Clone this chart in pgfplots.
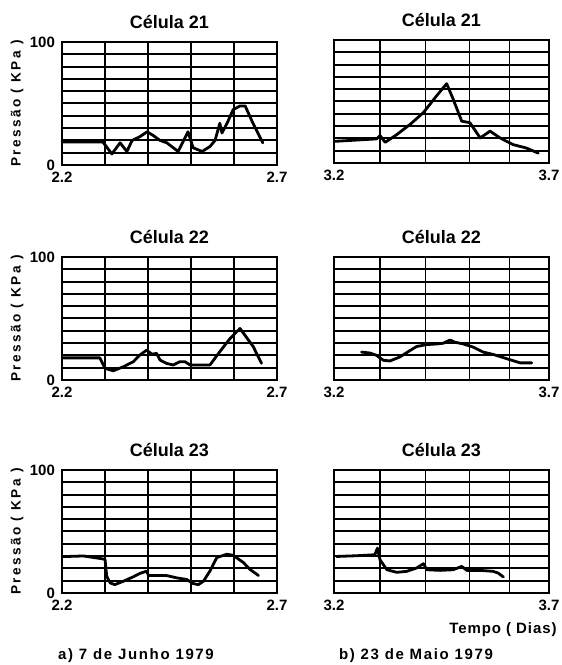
\documentclass[border=0pt]{standalone}
\usepackage{fontspec}
\setmainfont{Liberation Sans}
\usepackage{pgfplots}
\pgfplotsset{compat=1.18}

\pgfplotsset{
  panel/.style={
    scale only axis, width=107.5pt, height=61.5pt,
    anchor=south west,
    ymin=0, ymax=100,
    ytick={0,10,20,30,40,50,60,70,80,90,100},
    xmajorgrids, ymajorgrids,
    x grid style={black, line width=0.6pt},
    y grid style={black, line width=1pt},
    axis line style={black, line width=1.3pt},
    major tick length=0pt,
    tick label style={font=\bfseries\fontsize{7.5}{8}\selectfont},
    /pgf/number format/assume math mode=true,
    title style={font=\bfseries\fontsize{9}{10}\selectfont, yshift=-3pt},
  },
  leftpanel/.style={panel,
    xmin=2.2, xmax=2.7,
    xtick={2.2,2.3,2.4,2.5,2.6,2.7},
    xticklabels={2.2,,,,,2.7},
    yticklabels={0,,,,,,,,,,100},
    ylabel={Pressão ( KPa )},
    ylabel style={at={(axis description cs:-0.209,0.5)}, rotate=0, anchor=center,
      font=\bfseries\fontsize{6.8}{7}\selectfont\addfontfeature{LetterSpace=18}},
  },
  rightpanel/.style={panel,
    xmin=3.2, xmax=3.7,
    xtick={3.2,3.307,3.412,3.516,3.609,3.7},
    xticklabels={3.2,,,,,3.7},
    yticklabels={},
  },
  curve/.style={black, line width=1.4pt, line join=round, line cap=round},
}

\begin{document}
\begin{tikzpicture}
\useasboundingbox (0,0) rectangle (281pt,332.5pt);

% ---- Row 1: Celula 21
\begin{axis}[leftpanel, at={(31pt,250pt)}, title={Célula 21}]
\addplot[curve] coordinates {
(2.200,18.7) (2.295,18.7) (2.316,9) (2.335,18) (2.351,11) (2.363,20)
(2.381,23) (2.398,27) (2.412,24) (2.428,20) (2.444,18) (2.470,11)
(2.493,27) (2.505,14) (2.526,11) (2.544,15) (2.556,20) (2.567,34)
(2.572,26) (2.584,34) (2.598,45) (2.614,48) (2.626,48) (2.644,34)
(2.667,18)
};
\end{axis}

\begin{axis}[rightpanel, at={(167pt,251pt)}, title={Célula 21}]
\addplot[curve] coordinates {
(3.202,17.6) (3.299,19.6) (3.307,22.3) (3.319,16.8) (3.346,23.1)
(3.377,31.4) (3.408,41) (3.439,54.8) (3.462,64.5) (3.477,52)
(3.497,34) (3.516,32.8) (3.540,20.4) (3.563,25.9) (3.586,20.4)
(3.617,14.9) (3.648,12.1) (3.675,8)
};
\end{axis}

% ---- Row 2: Celula 22
\begin{axis}[leftpanel, at={(31pt,142.5pt)}, title={Célula 22}]
\addplot[curve] coordinates {
(2.203,18) (2.288,18) (2.300,9.5) (2.319,7.5) (2.343,10.8) (2.366,14.9)
(2.381,20.3) (2.397,24.3) (2.409,21) (2.420,21.6) (2.428,16.2)
(2.443,13.5) (2.459,12.2) (2.474,14.9) (2.486,14.9) (2.498,12.2)
(2.544,12.2) (2.567,23) (2.591,33.8) (2.614,41.9) (2.645,27) (2.664,13.5)
};
\end{axis}

\begin{axis}[rightpanel, at={(167pt,142.5pt)}, title={Célula 22}]
\addplot[curve] coordinates {
(3.264,22.7) (3.284,21.9) (3.299,20) (3.315,16) (3.330,15.5)
(3.353,18.7) (3.377,24) (3.392,27.2) (3.416,28.8) (3.439,29.3)
(3.454,29.9) (3.470,32.5) (3.481,30.7) (3.501,29.3) (3.524,26.7)
(3.547,22.7) (3.570,20.8) (3.602,17.3) (3.633,13.9) (3.660,13.9)
};
\end{axis}

% ---- Row 3: Celula 23
\begin{axis}[leftpanel, at={(31pt,36pt)}, title={Célula 23}]
\addplot[curve] coordinates {
(2.203,29.6) (2.250,30.1) (2.292,27.9) (2.300,27.4) (2.304,13.7)
(2.312,8.2) (2.323,6.8) (2.343,9.6) (2.366,13.2) (2.381,15.9)
(2.397,17.8) (2.401,14.2) (2.443,14.2) (2.467,12.3) (2.490,11)
(2.505,7.7) (2.517,6.8) (2.529,9.6) (2.544,17.8) (2.560,28.8)
(2.583,31.5) (2.598,30.7) (2.622,24.7) (2.637,19.2) (2.657,14.2)
};
\end{axis}

\begin{axis}[rightpanel, at={(167pt,36pt)}, title={Célula 23}]
\addplot[curve] coordinates {
(3.206,29.7) (3.253,30.3) (3.295,31.1) (3.301,36.5) (3.307,27)
(3.323,18.9) (3.346,16.8) (3.369,17.6) (3.392,20.3) (3.408,23.8)
(3.416,18.9) (3.447,18.4) (3.477,18.9) (3.497,21.6) (3.509,18.4)
(3.540,18.4) (3.570,17.6) (3.582,16.2) (3.594,13)
};
\end{axis}

\node[font=\bfseries\fontsize{7.5}{8}\selectfont\addfontfeature{LetterSpace=6}] at (251.5pt,17.5pt) {Tempo ( Dias)};
\node[font=\bfseries\fontsize{7.5}{8}\selectfont\addfontfeature{LetterSpace=11}] at (68pt,4.5pt) {a) 7 de Junho 1979};
\node[font=\bfseries\fontsize{7.5}{8}\selectfont\addfontfeature{LetterSpace=11}] at (208pt,4.5pt) {b) 23 de Maio 1979};
\end{tikzpicture}
\end{document}
